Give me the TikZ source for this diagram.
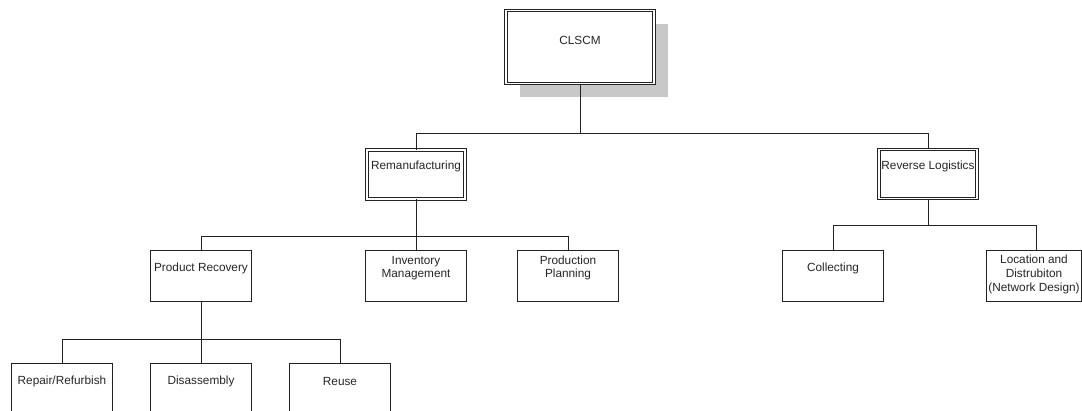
\documentclass[tikz,border=0pt]{standalone}
\usepackage{fontspec}
\setmainfont{Liberation Sans}
\usepackage{tikz}
\usetikzlibrary{shadows}
\definecolor{shadowgray}{RGB}{200,200,200}
\definecolor{linegray}{RGB}{35,35,35}
\tikzset{
  box/.style={draw=linegray, fill=white, line width=1pt, minimum width=101pt, minimum height=51pt, inner sep=0pt},
  dbox/.style={box, double=white, double distance=1.5pt, line width=0.9pt, minimum width=98pt, minimum height=49pt},
  boxtext/.style={font=\fontsize{11.8}{13.6}\selectfont, align=center, inner sep=0pt, text=black!85},
  link/.style={draw=linegray, line width=1pt}
}

\begin{document}
\begin{tikzpicture}[x=1pt, y=-1pt]
  \useasboundingbox (0,0) rectangle (1082,410);
  \clip (0,0) rectangle (1082,410);

  % top of the tree
  \node[dbox, minimum width=148pt, minimum height=73pt,
        general shadow={fill=shadowgray, shadow xshift=14pt, shadow yshift=-13pt},
        label={[boxtext, yshift=7pt]center:CLSCM}] (top) at (580,47) {};

  % second level
  \node[dbox, label={[boxtext, yshift=8pt]center:Remanufacturing}] (reman) at (416,174.5) {};
  \node[dbox, label={[boxtext, yshift=8pt]center:Reverse Logistics}] (revlog) at (928,174) {};

  % third level
  \node[box, label={[boxtext, yshift=7.5pt]center:Product Recovery}] (prodrec) at (201,275.5) {};
  \node[box, label={[boxtext, yshift=7.5pt]center:Inventory\\Management}] (invman) at (416,275.5) {};
  \node[box, label={[boxtext, yshift=7.5pt]center:Production\\Planning}] (prodplan) at (568,275.5) {};
  \node[box, label={[boxtext, yshift=7.5pt]center:Collecting}] (collect) at (833,275.5) {};
  \node[box, minimum width=95pt, label={[boxtext, yshift=1pt]center:Location and\\Distrubiton\\(Network Design)}] (locdist) at (1034,275.5) {};

  % fourth level
  \node[box, label={[boxtext, yshift=7pt]center:Repair/Refurbish}] (repair) at (62,388.5) {};
  \node[box, label={[boxtext, yshift=7pt]center:Disassembly}] (disasm) at (201,388.5) {};
  \node[box, label={[boxtext, yshift=7pt]center:Reuse}] (reuse) at (340,388.5) {};

  % connectors
  \coordinate (bustop) at (580,133);
  \coordinate (busrem) at (416,236);
  \coordinate (busrev) at (928,225);
  \coordinate (busrec) at (201,339);

  \draw[link] (top.south) -- (bustop);
  \draw[link] (reman.north) |- (bustop);
  \draw[link] (revlog.north) |- (bustop);

  \draw[link] (reman.south) -- (busrem);
  \draw[link] (prodrec.north) |- (busrem);
  \draw[link] (invman.north) -- (busrem);
  \draw[link] (prodplan.north) |- (busrem);

  \draw[link] (revlog.south) -- (busrev);
  \draw[link] (collect.north) |- (busrev);
  \draw[link] ([xshift=2pt]locdist.north) |- (busrev);

  \draw[link] (prodrec.south) -- (busrec);
  \draw[link] (repair.north) |- (busrec);
  \draw[link] (disasm.north) -- (busrec);
  \draw[link] (reuse.north) |- (busrec);
\end{tikzpicture}
\end{document}
